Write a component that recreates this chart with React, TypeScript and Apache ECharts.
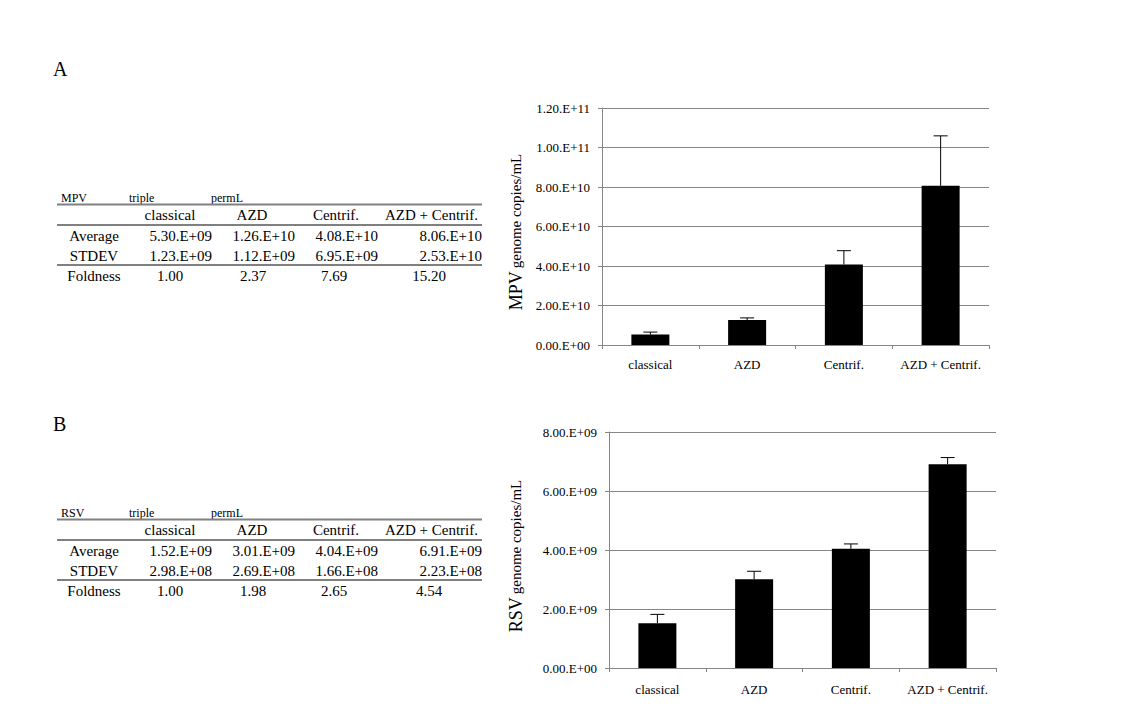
import React, { useEffect, useRef } from "react";
import * as echarts from "echarts";

const categories = ["classical", "AZD", "Centrif.", "AZD + Centrif."];
const mpvAverage = [5.3e9, 1.26e10, 4.08e10, 8.06e10];
const mpvStdev = [1.23e9, 1.12e9, 6.95e9, 2.53e10];
const mpvFoldness = [1.0, 2.37, 7.69, 15.2];
const rsvAverage = [1.52e9, 3.01e9, 4.04e9, 6.91e9];
const rsvStdev = [2.98e8, 2.69e8, 1.66e8, 2.23e8];
const rsvFoldness = [1.0, 1.98, 2.65, 4.54];
const rowLabels = ["Average", "STDEV", "Foldness"];
const headerWords = ["triple", "permL"];
const mpvAxis = { min: 0, max: 1.2e11, interval: 2e10 };
const rsvAxis = { min: 0, max: 8e9, interval: 2e9 };

const FONT = "Liberation Serif";
const GRAY = "#868686";

function sci(v: number): string {
  if (v === 0) return "0.00.E+00";
  let e = Math.floor(Math.log10(Math.abs(v)) + 1e-9);
  let s = (v / Math.pow(10, e)).toFixed(2);
  if (s === "10.00") {
    e += 1;
    s = (v / Math.pow(10, e)).toFixed(2);
  }
  return `${s}.E+${String(e).padStart(2, "0")}`;
}

const txt = (text: string, x: number, y: number, size: number, align: string) => ({
  type: "text",
  x,
  y,
  silent: true,
  style: { text, fontSize: size, fontFamily: FONT, fill: "#000", textAlign: align, textVerticalAlign: "middle" },
});

function tableGraphics(virus: string, avg: number[], sd: number[], fold: number[], dy: number) {
  const els: any[] = [];
  const line = (y: number) => ({
    type: "line",
    silent: true,
    shape: { x1: 57, y1: y + dy, x2: 482, y2: y + dy },
    style: { stroke: "#808080", lineWidth: 2 },
  });
  els.push(txt(virus, 61, 198 + dy, 12, "left"));
  els.push(txt(headerWords[0], 129, 198 + dy, 12, "left"));
  els.push(txt(headerWords[1], 211, 198 + dy, 12, "left"));
  els.push(line(204.5));
  els.push(line(225));
  els.push(line(265));
  const headCenters = [170, 252, 336];
  categories.forEach((c, i) => {
    if (i < 3) els.push(txt(c, headCenters[i], 215 + dy, 15, "center"));
    else els.push(txt(c, 478, 215 + dy, 15, "right"));
  });
  const rowY = [235.5, 256, 276].map((y) => y + dy);
  rowLabels.forEach((r, i) => els.push(txt(r, 94, rowY[i], 15, "center")));
  const valRight = [212, 295, 378, 482];
  avg.forEach((v, i) => els.push(txt(sci(v), valRight[i], rowY[0], 15, "right")));
  sd.forEach((v, i) => els.push(txt(sci(v), valRight[i], rowY[1], 15, "right")));
  const foldCenters = [170, 253, 334, 429];
  fold.forEach((v, i) => els.push(txt(v.toFixed(2), foldCenters[i], rowY[2], 15, "center")));
  return els;
}

function yName(virus: string, cx: number, cy: number) {
  return {
    type: "text",
    x: cx,
    y: cy,
    rotation: Math.PI / 2,
    silent: true,
    style: {
      text: `{a|${virus}} {b|genome copies/mL}`,
      textAlign: "center",
      textVerticalAlign: "middle",
      fontFamily: FONT,
      fill: "#000",
      rich: {
        a: { fontSize: 18, fontFamily: FONT, fill: "#000" },
        b: { fontSize: 15, fontFamily: FONT, fill: "#000" },
      },
    },
  };
}

const errorRender = (params: any, api: any) => {
  const i = api.value(0);
  const v = api.value(1);
  const s = api.value(2);
  const base = api.coord([i, v]);
  const top = api.coord([i, v + s]);
  const hw = 7;
  return {
    type: "group",
    children: [
      { type: "line", shape: { x1: base[0], y1: base[1], x2: top[0], y2: top[1] }, style: { stroke: "#000", lineWidth: 1 } },
      { type: "line", shape: { x1: top[0] - hw, y1: top[1], x2: top[0] + hw, y2: top[1] }, style: { stroke: "#000", lineWidth: 1 } },
    ],
  };
};

function xAxisOpt(gridIndex: number, margin: number) {
  return {
    type: "category",
    gridIndex,
    data: categories,
    axisLine: { show: true, lineStyle: { color: GRAY, width: 1 } },
    axisTick: { show: true, length: 4, lineStyle: { color: GRAY } },
    axisLabel: { color: "#000", fontSize: 13, fontFamily: FONT, margin, interval: 0 },
    splitLine: { show: false },
  };
}

function yAxisOpt(gridIndex: number, ax: { min: number; max: number; interval: number }) {
  return {
    type: "value",
    gridIndex,
    min: ax.min,
    max: ax.max,
    interval: ax.interval,
    axisLine: { show: true, lineStyle: { color: GRAY, width: 1 } },
    axisTick: { show: true, length: 4, lineStyle: { color: GRAY } },
    axisLabel: { color: "#000", fontSize: 13, fontFamily: FONT, margin: 12, formatter: (v: number) => sci(v) },
    splitLine: { show: true, lineStyle: { color: GRAY, width: 1 } },
  };
}

export default function App() {
  const ref = useRef<HTMLDivElement>(null);
  useEffect(() => {
    if (!ref.current) return;
    const chart = echarts.init(ref.current, null, { renderer: "svg" });
    chart.setOption({
      animation: false,
      backgroundColor: "#fff",
      textStyle: { fontFamily: FONT },
      grid: [
        { left: 602, top: 108, width: 387, height: 237 },
        { left: 609, top: 432, width: 387, height: 236 },
      ],
      xAxis: [xAxisOpt(0, 13), xAxisOpt(1, 15)],
      yAxis: [yAxisOpt(0, mpvAxis), yAxisOpt(1, rsvAxis)],
      series: [
        { type: "bar", xAxisIndex: 0, yAxisIndex: 0, data: mpvAverage, barWidth: 38, itemStyle: { color: "#000" } },
        { type: "bar", xAxisIndex: 1, yAxisIndex: 1, data: rsvAverage, barWidth: 38, itemStyle: { color: "#000" } },
        {
          type: "custom",
          xAxisIndex: 0,
          yAxisIndex: 0,
          z: 5,
          renderItem: errorRender,
          encode: { x: 0, y: 1 },
          data: categories.map((c, i) => [i, mpvAverage[i], mpvStdev[i]]),
        },
        {
          type: "custom",
          xAxisIndex: 1,
          yAxisIndex: 1,
          z: 5,
          renderItem: errorRender,
          encode: { x: 0, y: 1 },
          data: categories.map((c, i) => [i, rsvAverage[i], rsvStdev[i]]),
        },
      ],
      graphic: [
        txt("A", 53, 69, 20, "left"),
        txt("B", 53, 424, 20, "left"),
        ...tableGraphics("MPV", mpvAverage, mpvStdev, mpvFoldness, 0),
        ...tableGraphics("RSV", rsvAverage, rsvStdev, rsvFoldness, 315),
        yName("MPV", 516, 232),
        yName("RSV", 516, 556),
      ],
    });
    return () => chart.dispose();
  }, []);
  return (
    <div
      ref={ref}
      style={{ position: "absolute", left: 0, top: 0, width: 1135, height: 711, background: "#fff" }}
    />
  );
}
